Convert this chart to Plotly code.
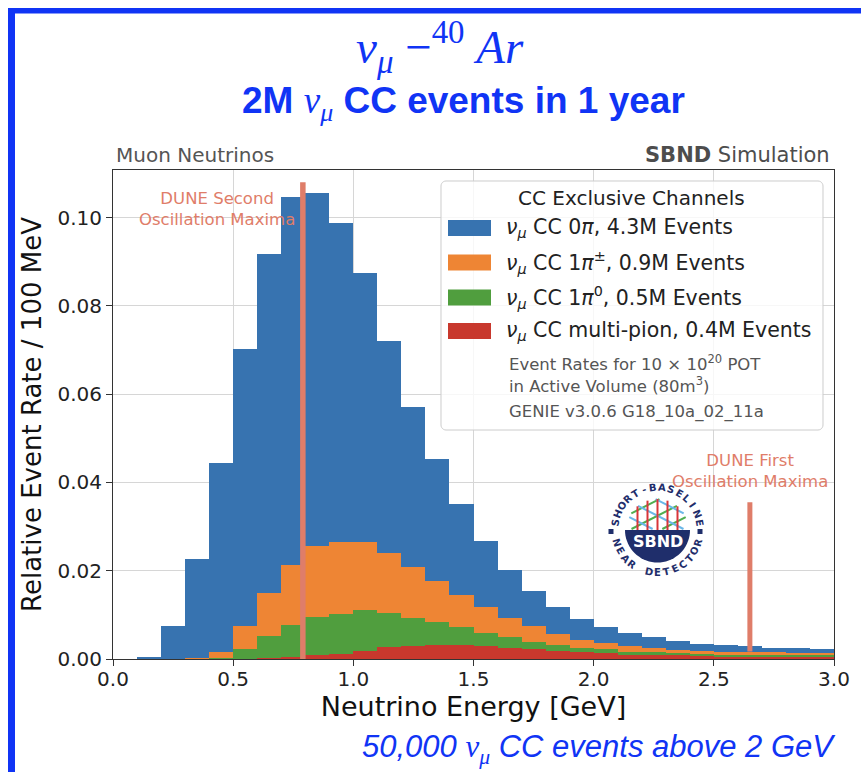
import math
import plotly.graph_objects as go

# ---------------- data ----------------
bin_centers = [0.05, 0.15, 0.25, 0.35, 0.45, 0.55, 0.65, 0.75, 0.85, 0.95,
               1.05, 1.15, 1.25, 1.35, 1.45, 1.55, 1.65, 1.75, 1.85, 1.95,
               2.05, 2.15, 2.25, 2.35, 2.45, 2.55, 2.65, 2.75, 2.85, 2.95]
bin_width = 0.1

cc_multipion = [0, 0, 0, 0.0001, 0.0001, 0.0001, 0.0002, 0.0004, 0.0008, 0.0011,
                0.0019, 0.0027, 0.0029, 0.0031, 0.0031, 0.0030, 0.0026, 0.0023, 0.0019, 0.0015,
                0.0013, 0.0010, 0.0009, 0.0008, 0.0007, 0.0006, 0.0006, 0.0005, 0.0005, 0.0005]
cc_1pi0 = [0, 0, 0, 0, 0.0002, 0.0022, 0.0049, 0.0074, 0.0087, 0.0092,
           0.0091, 0.0077, 0.0063, 0.0052, 0.0041, 0.0030, 0.0023, 0.0016, 0.0013, 0.0011,
           0.0009, 0.0007, 0.0006, 0.0005, 0.0004, 0.0004, 0.0003, 0.0003, 0.0003, 0.0003]
cc_1pi_charged = [0, 0, 0.0001, 0.0002, 0.0014, 0.0052, 0.0098, 0.0136, 0.0160, 0.0163,
                  0.0154, 0.0136, 0.0116, 0.0094, 0.0074, 0.0058, 0.0043, 0.0035, 0.0025, 0.0018,
                  0.0015, 0.0012, 0.0010, 0.0008, 0.0008, 0.0007, 0.0007, 0.0007, 0.0006, 0.0005]
cc_0pi = [0, 0.00045, 0.0074, 0.0224, 0.0428, 0.0627, 0.0768, 0.0833, 0.0800, 0.0722,
          0.0610, 0.0481, 0.0362, 0.0277, 0.0205, 0.0150, 0.0109, 0.0081, 0.0061, 0.0047,
          0.0035, 0.0030, 0.0025, 0.0020, 0.0016, 0.0015, 0.0013, 0.0011, 0.0011, 0.0010]

channel_labels = [
    "<i>ν</i><sub><i>μ</i></sub> CC 0<i>π</i>, 4.3M Events",
    "<i>ν</i><sub><i>μ</i></sub> CC 1<i>π</i><sup>±</sup>, 0.9M Events",
    "<i>ν</i><sub><i>μ</i></sub> CC 1<i>π</i><sup>0</sup>, 0.5M Events",
    "<i>ν</i><sub><i>μ</i></sub> CC multi-pion, 0.4M Events",
]
channel_colors = ["#3773b0", "#ee8534", "#509e3e", "#c8382d"]

x_tickvals = [0.0, 0.5, 1.0, 1.5, 2.0, 2.5, 3.0]
x_ticktext = ["0.0", "0.5", "1.0", "1.5", "2.0", "2.5", "3.0"]
y_tickvals = [0.0, 0.02, 0.04, 0.06, 0.08, 0.10]
y_ticktext = ["0.00", "0.02", "0.04", "0.06", "0.08", "0.10"]

dune_second_max_x = [0.79, 0.79]
dune_second_max_y = [0.0, 0.108]
dune_first_max_x = [2.65, 2.65]
dune_first_max_y = [0.0017, 0.0355]

# ---------------- geometry helpers ----------------
W, H = 861, 772
ML, MR, MT, MB = 113, 27, 170, 113
PW, PH = W - ML - MR, H - MT - MB


def PX(x):
    return (x - ML) / PW


def PY(y):
    return (H - MB - y) / PH


BLUE = "#1034f5"
SALMON = "#df7d69"
NAVY = "#1f2e6b"

fig = go.Figure()
series = [cc_multipion, cc_1pi0, cc_1pi_charged, cc_0pi]
order = [3, 2, 1, 0]
for vals, idx in zip(series, order):
    fig.add_trace(go.Bar(x=bin_centers, y=vals, width=bin_width,
                         marker=dict(color=channel_colors[idx], line=dict(width=0)),
                         showlegend=False, hoverinfo="skip"))

fig.add_trace(go.Scatter(x=dune_second_max_x, y=dune_second_max_y, mode="lines",
                         line=dict(color=SALMON, width=5.5), showlegend=False, hoverinfo="skip"))
fig.add_trace(go.Scatter(x=dune_first_max_x, y=dune_first_max_y, mode="lines",
                         line=dict(color=SALMON, width=5), showlegend=False, hoverinfo="skip"))

shapes = []
annotations = []


def ann(x, y, text, size, color="#222", family="DejaVu Sans", xanchor="center",
        yanchor="middle", angle=0, weight="normal", style="normal"):
    annotations.append(dict(x=PX(x), y=PY(y), xref="paper", yref="paper", text=text,
                            showarrow=False, xanchor=xanchor, yanchor=yanchor,
                            textangle=angle,
                            font=dict(size=size, color=color, family=family,
                                      weight=weight, style=style)))


def rect(x0, y0, x1, y1, fill, line=None):
    shapes.append(dict(type="rect", xref="paper", yref="paper",
                       x0=PX(x0), x1=PX(x1), y0=PY(y1), y1=PY(y0),
                       fillcolor=fill, line=dict(width=0 if line is None else 1,
                                                 color=line or fill)))


def path_from_pts(pts, closed=True):
    s = "M " + " L ".join(f"{PX(a):.5f},{PY(b):.5f}" for a, b in pts)
    return s + (" Z" if closed else "")


# blue slide border
rect(8, 8, 861, 13.5, BLUE)
rect(8, 8, 15, 772, BLUE)

# titles
ann(440, 47, "<i>ν</i><sub><i>μ</i></sub> −<sup>40</sup> <i>Ar</i>", 47, BLUE,
    family="Liberation Serif")
ann(463, 103, "2M <span style='font-family:Liberation Serif;font-weight:normal'><i>ν</i><sub><i>μ</i></sub></span> CC events in 1 year",
    37, BLUE, family="Liberation Sans", weight="bold")
ann(838, 749, "<i>50,000 </i><span style='font-family:Liberation Serif'><i>ν</i><sub><i>μ</i></sub></span><i> CC events above 2 GeV</i>",
    31, BLUE, family="Liberation Sans", xanchor="right")

ann(114, 155, "Muon Neutrinos", 20, "#555555", xanchor="left")
ann(832, 155, "<b>SBND</b> Simulation", 21, "#4d4d4d", xanchor="right")

# oscillation text
ann(217, 209, "DUNE Second<br>Oscillation Maxima", 16.5, SALMON)
ann(750, 471, "DUNE First<br>Oscillation Maxima", 16.5, SALMON)

# legend box (rounded)
lx0, ly0, lx1, ly1, r = 441, 181, 823, 430, 5
pts = []
for (cxr, cyr, a0) in [(lx1 - r, ly0 + r, -90), (lx1 - r, ly1 - r, 0),
                       (lx0 + r, ly1 - r, 90), (lx0 + r, ly0 + r, 180)]:
    for k in range(7):
        a = math.radians(a0 + k * 15)
        pts.append((cxr + r * math.cos(a), cyr + r * math.sin(a)))
shapes.append(dict(type="path", xref="paper", yref="paper", path=path_from_pts(pts),
                   fillcolor="rgba(255,255,255,0.8)", line=dict(color="#cccccc", width=1)))
ann(631, 198, "CC Exclusive Channels", 20, "#222")
entry_y = [228, 262.5, 297.5, 331]
for i, yy in enumerate(entry_y):
    rect(448, yy - 8, 491, yy + 8, channel_colors[i])
    ann(504, yy, channel_labels[i], 20.5, "#222", xanchor="left")
ann(507, 363, "Event Rates for 10 × 10<sup>20</sup> POT", 16.5, "#555555", xanchor="left")
ann(507, 385, "in Active Volume (80m<sup>3</sup>)", 16.5, "#555555", xanchor="left")
ann(507, 412, "GENIE v3.0.6 G18_10a_02_11a", 16.5, "#555555", xanchor="left")

# ---------------- SBND logo ----------------
cx, cy, rd = 657.5, 530, 32.5
half = [(cx - rd, cy)]
for k in range(0, 37):
    half.append((cx - rd * math.cos(math.radians(k * 5)), cy + rd * math.sin(math.radians(k * 5))))
shapes.append(dict(type="path", xref="paper", yref="paper", path=path_from_pts(half),
                   fillcolor=NAVY, line=dict(width=0)))


def clip_line(p0, d, rc):
    fx, fy = p0[0] - cx, p0[1] - cy
    a = d[0] ** 2 + d[1] ** 2
    b = 2 * (fx * d[0] + fy * d[1])
    c = fx * fx + fy * fy - rc * rc
    disc = b * b - 4 * a * c
    if disc <= 0:
        return None
    t1 = (-b - math.sqrt(disc)) / (2 * a)
    t2 = (-b + math.sqrt(disc)) / (2 * a)
    if abs(d[1]) > 1e-9:
        tc = (cy - 1 - p0[1]) / d[1]
        if d[1] > 0:
            t2 = min(t2, tc)
        else:
            t1 = max(t1, tc)
    if t2 <= t1:
        return None
    return [(p0[0] + t1 * d[0], p0[1] + t1 * d[1]), (p0[0] + t2 * d[0], p0[1] + t2 * d[1])]


ang = math.radians(27)
for off in [-16, -2, 12]:
    n = (math.sin(ang), math.cos(ang))
    seg = clip_line((cx + off * n[0], cy - 12 + off * n[1]), (math.cos(ang), -math.sin(ang)), 31)
    if seg:
        shapes.append(dict(type="path", xref="paper", yref="paper", path=path_from_pts(seg, False),
                           line=dict(color="#4fae4f", width=2)))
for off in [-16, -2, 12]:
    n = (-math.sin(ang), math.cos(ang))
    seg = clip_line((cx + off * n[0], cy - 12 + off * n[1]), (math.cos(ang), math.sin(ang)), 31)
    if seg:
        shapes.append(dict(type="path", xref="paper", yref="paper", path=path_from_pts(seg, False),
                           line=dict(color="#6ab7e8", width=2)))
for dx in [-20, -10, 0, 10, 20]:
    top = cy - math.sqrt(31 ** 2 - dx ** 2)
    shapes.append(dict(type="path", xref="paper", yref="paper",
                       path=path_from_pts([(cx + dx, cy), (cx + dx, top)], False),
                       line=dict(color="#d8353a", width=2)))
rect(cx - 49, cy - 1, cx - 44, cy + 4, NAVY)
rect(cx + 40, cy - 1, cx + 45, cy + 4, NAVY)
ann(cx, 541, "SBND", 16, "#ffffff", weight="bold")

R = 42.5
top_text = "SHORT-BASELINE"
for i, ch in enumerate(top_text):
    th = 170 - i * (160 / (len(top_text) - 1))
    t = math.radians(th)
    ann(cx + R * math.cos(t), cy - R * math.sin(t), ch, 10, NAVY, weight="bold", angle=90 - th)
bot_text = "NEAR DETECTOR"
for i, ch in enumerate(bot_text):
    if ch == " ":
        continue
    th = 197 + i * (146 / (len(bot_text) - 1))
    t = math.radians(th)
    ann(cx + R * math.cos(t), cy - R * math.sin(t), ch, 10, NAVY, weight="bold", angle=270 - th)

# ---------------- layout ----------------
axis_font = dict(family="DejaVu Sans", size=20, color="#222")
fig.update_layout(
    width=W, height=H,
    margin=dict(l=ML, r=MR, t=MT, b=MB, autoexpand=False),
    paper_bgcolor="white", plot_bgcolor="white",
    barmode="stack", bargap=0,
    shapes=shapes, annotations=annotations,
    xaxis=dict(range=[0, 3], tickvals=x_tickvals, ticktext=x_ticktext,
               showgrid=True, gridcolor="#d6d6d6", gridwidth=1, zeroline=False,
               showline=True, linecolor="#333", linewidth=1, mirror=True,
               ticks="outside", ticklen=6, tickcolor="#333", tickfont=axis_font,
               ticklabelstandoff=-4,
               title=dict(text="Neutrino Energy [GeV]", standoff=4,
                          font=dict(family="DejaVu Sans", size=27, color="#111"))),
    yaxis=dict(range=[0, 0.1108], tickvals=y_tickvals, ticktext=y_ticktext,
               showgrid=True, gridcolor="#d6d6d6", gridwidth=1, zeroline=False,
               showline=True, linecolor="#333", linewidth=1, mirror=True,
               ticks="outside", ticklen=6, tickcolor="#333", tickfont=axis_font,
               title=dict(text="Relative Event Rate / 100 MeV", standoff=8,
                          font=dict(family="DejaVu Sans", size=26, color="#111"))),
)

fig.write_html("out.html")
